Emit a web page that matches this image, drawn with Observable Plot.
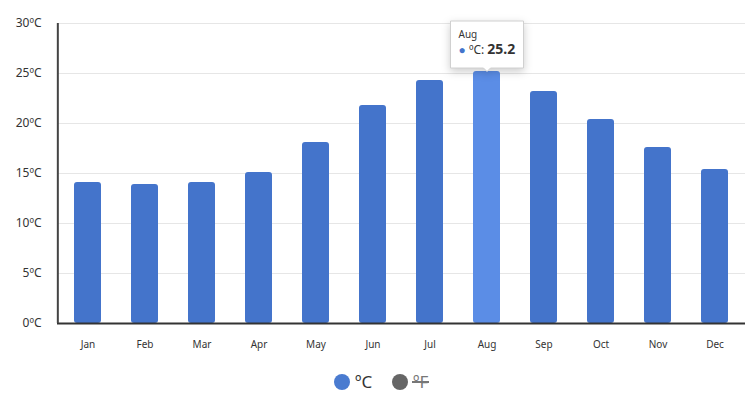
<!DOCTYPE html>
<html>
<head>
<meta charset="utf-8">
<script src="https://cdn.jsdelivr.net/npm/d3@7"></script>
<script src="https://cdn.jsdelivr.net/npm/@observablehq/plot@0.6"></script>
<style>
  html, body { margin: 0; padding: 0; background: #fff; }
  body { width: 753px; height: 405px; overflow: hidden; font-family: "Noto Sans", "Open Sans", sans-serif; }
  #legend { position: relative; height: 45px; width: 753px; }
  .li { position: absolute; top: 10px; display: flex; align-items: center; font-size: 17px; }
  .dot { width: 16px; height: 16px; border-radius: 50%; display: inline-block; margin-right: 5px; }
  .strike { position: relative; color: #777; display: inline-block; }
  .strike .bar { position: absolute; left: -1px; right: -1px; top: 11px; height: 0; border-top: 2px solid #777; }
</style>
</head>
<body>
<div id="chart"></div>
<div id="legend">
  <div class="li" style="left:334px;"><span class="dot" style="background:#4a7bd0"></span><span style="color:#333">ºC</span></div>
  <div class="li" style="left:392px;"><span class="dot" style="background:#666"></span><span class="strike">ºF<span class="bar"></span></span></div>
</div>
<script>
const months = ["Jan","Feb","Mar","Apr","May","Jun","Jul","Aug","Sep","Oct","Nov","Dec"];
const tempC = [14.1, 13.9, 14.1, 15.1, 18.1, 21.8, 24.3, 25.2, 23.2, 20.4, 17.6, 15.4];
const yTicks = [0, 5, 10, 15, 20, 25, 30];
const highlight = "Aug";
const unit = "ºC";

const data = months.map((m, i) => ({month: m, value: tempC[i]}));
const hi = data.find(d => d.month === highlight);

const W = 753, ML = 57, MR = 8;
const halfStep = (W - ML - MR) / months.length / 2;

const chart = Plot.plot({
  width: W,
  height: 360,
  marginLeft: ML,
  marginRight: MR,
  marginTop: 23,
  marginBottom: 37,
  style: {fontFamily: "Noto Sans, Open Sans, sans-serif", color: "#333", background: "#fff"},
  x: {domain: months, paddingInner: 0.53, paddingOuter: 0.265, label: null, tickSize: 0, tickPadding: 17},
  y: {domain: [0, 30], ticks: yTicks, label: null, tickSize: 0, tickPadding: 16,
      tickFormat: d => d + unit},
  marks: [
    Plot.gridY(yTicks, {stroke: "#e6e6e6", strokeOpacity: 1}),
    Plot.barY(data, {x: "month", y: "value",
      fill: d => d.month === highlight ? "#5b8de6" : "#4474cb", rx: 3}),
    Plot.ruleY([0], {stroke: "#333", strokeWidth: 2}),
    Plot.ruleX([months[0]], {y1: 0, y2: 30, stroke: "#444", strokeWidth: 2, dx: -halfStep - 1.5}),
    Plot.tip([hi], {x: "month", y: "value", anchor: "bottom",
      title: d => d.month + "\n● " + unit + ": " + d.value,
      fill: "#fff", stroke: "#d0d0d0", pointerSize: 7, fontSize: 12, textPadding: 8, lineHeight: 1.3})
  ]
});
document.getElementById("chart").appendChild(chart);

chart.querySelectorAll('g[aria-label="x-axis tick label"] text').forEach(t => t.setAttribute("font-size", 10));
chart.querySelectorAll('g[aria-label="y-axis tick label"] text').forEach(t => t.setAttribute("font-size", 12));

const tip = chart.querySelector('g[aria-label="tip"]');
if (tip) {
  tip.querySelectorAll("text").forEach(t => t.setAttribute("font-size", 12));
  const spans = tip.querySelectorAll("text tspan");
  if (spans.length >= 2) {
    spans[0].setAttribute("font-size", 10);
    spans[0].setAttribute("fill", "#333");
    const s = spans[1];
    s.textContent = "";
    s.setAttribute("font-size", 12);
    const mk = (content, attrs) => {
      const e = document.createElementNS("http://www.w3.org/2000/svg", "tspan");
      e.textContent = content;
      for (const k in attrs) e.setAttribute(k, attrs[k]);
      return e;
    };
    s.appendChild(mk("● ", {fill: "#4474cb", "font-size": 12}));
    s.appendChild(mk(unit + ": ", {fill: "#333", "font-size": 12}));
    s.appendChild(mk(String(hi.value), {fill: "#333", "font-size": 14, "font-weight": "bold"}));
  }
}
</script>
</body>
</html>
